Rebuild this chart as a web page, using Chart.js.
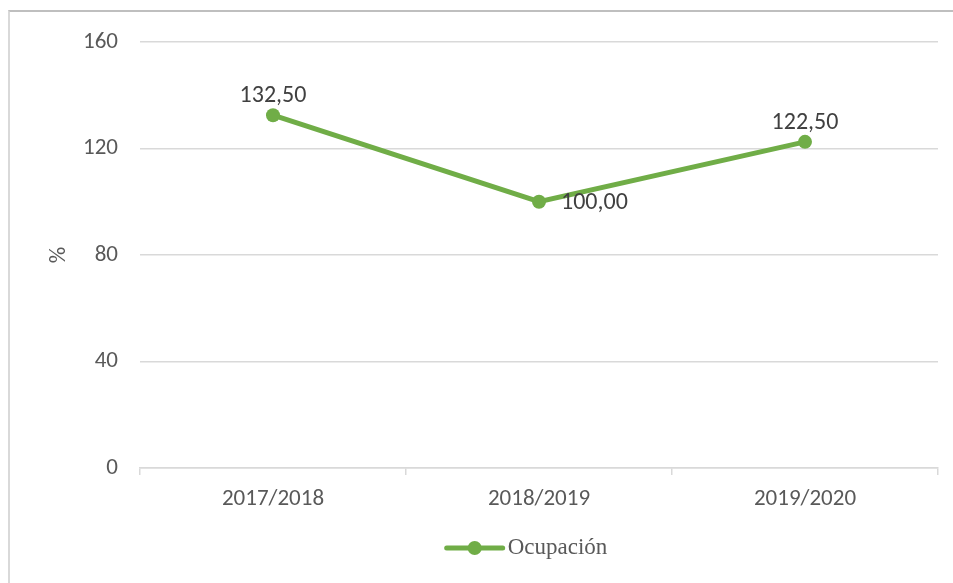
<!DOCTYPE html>
<html>
<head>
<meta charset="utf-8">
<script src="https://cdn.jsdelivr.net/npm/chart.js@4"></script>
<style>
    html, body { margin: 0; padding: 0; background: #fff; }
    #wrap { position: relative; width: 953px; height: 583px; }
    #frame {
        position: absolute; left: 8px; top: 10px; right: 0; bottom: 0;
        border-top: 2px solid #bfbfbf; border-left: 2px solid #d9d9d9;
    }
    canvas { position: absolute; left: 0; top: 0; }
</style>
</head>
<body>
<div id="wrap">
    <div id="frame"></div>
    <canvas id="chart" width="953" height="583"></canvas>
</div>
<script>
const categorias = ['2017/2018', '2018/2019', '2019/2020'];
const ocupacion = [132.5, 100.0, 122.5];
const serieNombre = 'Ocupación';
const ticksY = [0, 40, 80, 120, 160];

const VERDE = '#70ad47';
const GRIS_TEXTO = '#595959';
const FUENTE = "Carlito, Lato, 'Open Sans', sans-serif";

function formatear(v) {
    return v.toFixed(2).replace('.', ',');
}

// etiquetas de datos: encima del punto, o a la derecha si es un minimo
const etiquetasPlugin = {
    id: 'etiquetas',
    afterDatasetsDraw(chart) {
        const ctx = chart.ctx;
        const meta = chart.getDatasetMeta(0);
        const datos = chart.data.datasets[0].data;
        ctx.save();
        ctx.font = '24px ' + FUENTE;
        ctx.fillStyle = '#404040';
        meta.data.forEach((pt, i) => {
            const v = datos[i];
            const prev = datos[i - 1], next = datos[i + 1];
            const esMinimo = prev !== undefined && next !== undefined && v < prev && v < next;
            ctx.textBaseline = 'middle';
            if (esMinimo) {
                ctx.textAlign = 'left';
                ctx.fillText(formatear(v), pt.x + 22, pt.y + 1);
            } else {
                ctx.textAlign = 'center';
                ctx.fillText(formatear(v), pt.x, pt.y - 19);
            }
        });
        ctx.restore();
    }
};

// leyenda con linea y punto, centrada debajo del eje
const leyendaPlugin = {
    id: 'leyenda',
    afterDraw(chart) {
        const ctx = chart.ctx;
        const ds = chart.data.datasets[0];
        const area = chart.chartArea;
        ctx.save();
        ctx.font = "23px 'Liberation Serif', 'DejaVu Serif', serif";
        const ancho = ctx.measureText(ds.label).width;
        const simbolo = 56, gap = 5;
        const total = simbolo + gap + ancho;
        const x0 = (area.left + area.right) / 2 - total / 2 - 12;
        const y = 548;
        ctx.strokeStyle = ds.borderColor;
        ctx.lineWidth = 5;
        ctx.lineCap = 'round';
        ctx.beginPath();
        ctx.moveTo(x0, y);
        ctx.lineTo(x0 + simbolo, y);
        ctx.stroke();
        ctx.fillStyle = ds.borderColor;
        ctx.beginPath();
        ctx.arc(x0 + simbolo / 2, y, 7, 0, Math.PI * 2);
        ctx.fill();
        ctx.fillStyle = GRIS_TEXTO;
        ctx.textAlign = 'left';
        ctx.textBaseline = 'middle';
        ctx.fillText(ds.label, x0 + simbolo + gap, y);
        ctx.restore();
    }
};

new Chart(document.getElementById('chart'), {
    type: 'line',
    data: {
        labels: categorias,
        datasets: [{
            label: serieNombre,
            data: ocupacion,
            borderColor: VERDE,
            backgroundColor: VERDE,
            borderWidth: 5,
            pointRadius: 7,
            pointHoverRadius: 7,
            pointBackgroundColor: VERDE,
            pointBorderWidth: 0,
            tension: 0
        }]
    },
    options: {
        responsive: false,
        animation: false,
        layout: { padding: { top: 42, right: 15, bottom: 0, left: 0 } },
        plugins: {
            legend: { display: false },
            tooltip: { enabled: false }
        },
        scales: {
            x: {
                offset: true,
                grid: {
                    drawOnChartArea: false,
                    drawTicks: true,
                    tickLength: 7,
                    color: '#d9d9d9',
                    lineWidth: 1.5,
                    offset: true
                },
                border: { display: true, color: '#d9d9d9', width: 1.5 },
                ticks: {
                    color: GRIS_TEXTO,
                    font: { family: FUENTE, size: 23 },
                    padding: 10,
                    maxRotation: 0
                },
                afterFit(scale) { scale.height = 115; }
            },
            y: {
                min: 0,
                max: 160,
                afterBuildTicks(scale) {
                    scale.ticks = ticksY.map(v => ({ value: v }));
                },
                grid: {
                    color: '#d9d9d9',
                    lineWidth: 1.5,
                    drawTicks: false
                },
                border: { display: false },
                ticks: {
                    color: GRIS_TEXTO,
                    font: { family: FUENTE, size: 23 },
                    padding: 22
                },
                title: {
                    display: true,
                    text: '%',
                    color: GRIS_TEXTO,
                    font: { family: FUENTE, size: 23 },
                    padding: { top: 45, bottom: 0 }
                },
                afterFit(scale) { scale.width = 140; }
            }
        }
    },
    plugins: [etiquetasPlugin, leyendaPlugin]
});
</script>
</body>
</html>
